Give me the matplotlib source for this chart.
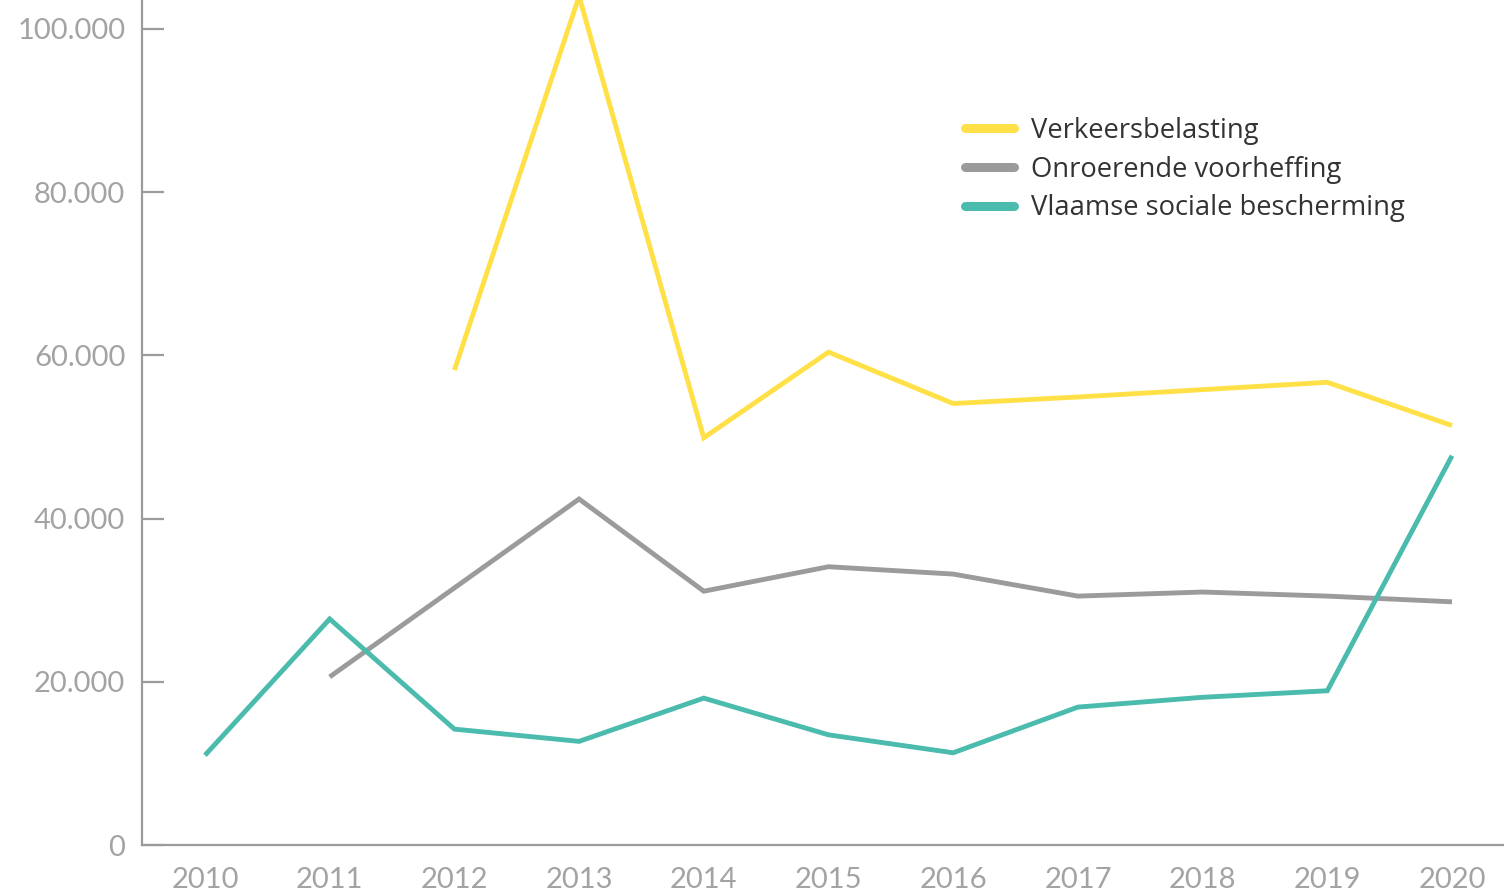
"""Line chart: Verkeersbelasting, Onroerende voorheffing, Vlaamse sociale bescherming."""

import matplotlib
matplotlib.use("Agg")
import matplotlib.pyplot as plt
import numpy as np

years = [2010, 2011, 2012, 2013, 2014, 2015, 2016, 2017, 2018, 2019, 2020]
verkeersbelasting = [np.nan, np.nan, 58200, 104000, 49900, 60400, 54100, 54900, 55800, 56700, 51400]
onroerende_voorheffing = [np.nan, 20600, 31500, 42400, 31100, 34100, 33200, 30500, 31000, 30500, 29800]
sociale_bescherming = [11000, 27700, 14200, 12700, 18000, 13500, 11300, 16900, 18100, 18900, 47700]

series_labels = ["Verkeersbelasting", "Onroerende voorheffing", "Vlaamse sociale bescherming"]
series_colors = ["#FFE047", "#9B9B9B", "#4ABBAD"]
y_ticks = [0, 20000, 40000, 60000, 80000, 100000]
y_tick_labels = ["0", "20.000", "40.000", "60.000", "80.000", "100.000"]

fig = plt.figure(figsize=(15.04, 8.92), dpi=100, facecolor="white")
ax = fig.add_axes([142 / 1504, 47 / 892, 1 - 142 / 1504, 1 - 47 / 892])

for values, label, color in zip(
    [verkeersbelasting, onroerende_voorheffing, sociale_bescherming], series_labels, series_colors
):
    ax.plot(years, values, color=color, lw=3.5, label=label, solid_joinstyle="miter", solid_capstyle="butt")

ax.set_xlim(2009.495, 2020.417)
ax.set_ylim(0, 103550)
ax.set_xticks(years)
ax.set_xticklabels([str(y) for y in years])
ax.set_yticks(y_ticks)
ax.set_yticklabels(y_tick_labels)

for spine in ["top", "right"]:
    ax.spines[spine].set_visible(False)
for spine in ["left", "bottom"]:
    ax.spines[spine].set_color("#9B9B9B")
    ax.spines[spine].set_linewidth(1.6)

ax.tick_params(axis="y", direction="in", length=16, width=1.6, color="#9B9B9B", pad=12,
               labelcolor="#A3A3A3", labelsize=21)
ax.tick_params(axis="x", length=0, pad=16, labelcolor="#A3A3A3", labelsize=21)
for lbl in ax.get_xticklabels() + ax.get_yticklabels():
    lbl.set_fontfamily(["Lato", "DejaVu Sans"])

leg = ax.legend(
    loc="upper left",
    bbox_to_anchor=((965 - 142) / 1362, 1 - 117 / 845),
    frameon=False,
    borderpad=0,
    borderaxespad=0,
    handlelength=1.8,
    handletextpad=0.62,
    labelspacing=0.39,
    prop={"family": ["Open Sans", "DejaVu Sans"], "size": 19.7},
)
for line in leg.get_lines():
    line.set_linewidth(6.5)
    line.set_solid_capstyle("round")
for text in leg.get_texts():
    text.set_color("#333333")

fig.savefig("out.png", dpi=100, facecolor="white")
plt.close(fig)
